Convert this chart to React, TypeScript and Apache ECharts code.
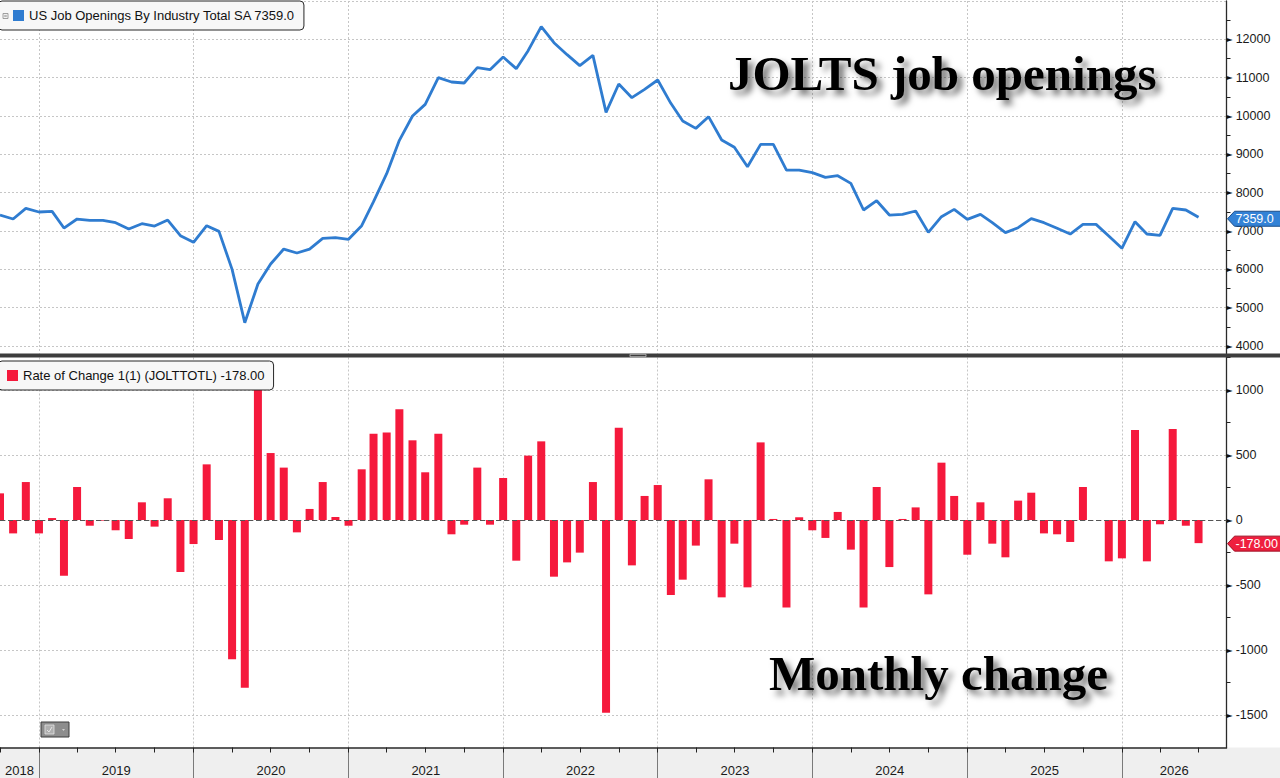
import React, { useEffect, useRef } from "react";
import * as echarts from "echarts";

// ---------- data ----------
const monthLabels = [
  "2018-09", "2018-10", "2018-11", "2018-12",
  "2019-01", "2019-02", "2019-03", "2019-04", "2019-05", "2019-06", "2019-07", "2019-08", "2019-09", "2019-10", "2019-11", "2019-12",
  "2020-01", "2020-02", "2020-03", "2020-04", "2020-05", "2020-06", "2020-07", "2020-08", "2020-09", "2020-10", "2020-11", "2020-12",
  "2021-01", "2021-02", "2021-03", "2021-04", "2021-05", "2021-06", "2021-07", "2021-08", "2021-09", "2021-10", "2021-11", "2021-12",
  "2022-01", "2022-02", "2022-03", "2022-04", "2022-05", "2022-06", "2022-07", "2022-08", "2022-09", "2022-10", "2022-11", "2022-12",
  "2023-01", "2023-02", "2023-03", "2023-04", "2023-05", "2023-06", "2023-07", "2023-08", "2023-09", "2023-10", "2023-11", "2023-12",
  "2024-01", "2024-02", "2024-03", "2024-04", "2024-05", "2024-06", "2024-07", "2024-08", "2024-09", "2024-10", "2024-11", "2024-12",
  "2025-01", "2025-02", "2025-03", "2025-04", "2025-05", "2025-06", "2025-07", "2025-08", "2025-09", "2025-10", "2025-11", "2025-12",
  "2026-01", "2026-02", "2026-03", "2026-04", "2026-05", "2026-06",
];

const jobOpenings = [
  7417, 7313, 7591, 7496,
  7513, 7078, 7313, 7278, 7278, 7217, 7052, 7191, 7130, 7287, 6878, 6704,
  7139, 6991, 6000, 4609, 5617, 6139, 6530, 6426, 6530, 6809, 6826, 6783,
  7139, 7765, 8496, 9365, 10000, 10304, 11000, 10887, 10861, 11261, 11209, 11539,
  11235, 11704, 12330, 11913, 11600, 11313, 11583, 10096, 10835, 10478, 10696, 10939,
  10331, 9870, 9678, 9983, 9374, 9183, 8678, 9261, 9261, 8591, 8591, 8522,
  8400, 8443, 8243, 7548, 7791, 7417, 7435, 7522, 6965, 7374, 7565, 7304,
  7435, 7217, 6957, 7087, 7322, 7217, 7070, 6922, 7174, 7174, 6870, 6548,
  7243, 6922, 6887, 7591, 7548, 7359,
];

const monthlyChange = [
  205, -103, 292, -103,
  15, -428, 254, -44, -5, -79, -146, 136, -51, 167, -400, -185,
  428, -154, -1072, -1290, 1015, 515, 403, -95, 85, 292, 23, -44,
  390, 664, 674, 851, 613, 367, 664, -110, -36, 403, -36, 323,
  -313, 495, 605, -436, -326, -251, 292, -1482, 710, -349, 185, 269,
  -577, -459, -197, 313, -595, -182, -518, 597, 8, -674, 21, -79,
  -138, 62, -228, -674, 254, -362, 8, 97, -572, 441, 185, -267,
  136, -182, -287, 149, 210, -103, -110, -169, 254, 0, -318, -295,
  692, -318, -33, 700, -44, -178,
];

const yearStartTicks = [2019, 2020, 2021, 2022, 2023, 2024, 2025, 2026];
const yearLabelYears = [2018, 2019, 2020, 2021, 2022, 2023, 2024, 2025, 2026];
const quarterYears = [2018, 2019, 2020, 2021, 2022, 2023, 2024, 2025, 2026];
const topMajorTicks = [4000, 5000, 6000, 7000, 8000, 9000, 10000, 11000, 12000, 13000];
const topLabelTicks = [4000, 5000, 6000, 7000, 8000, 9000, 10000, 11000, 12000];
const topMinorTicks = [4500, 5500, 6500, 7500, 8500, 9500, 10500, 11500, 12500];
const botMajorTicks = [-1500, -1000, -500, 0, 500, 1000];
const botMinorTicks = [-1250, -750, -250, 250, 750, 1250];

const LINE_NAME = "US Job Openings By Industry Total SA";
const BAR_NAME = "Rate of Change 1(1) (JOLTTOTL)";

// ---------- styling ----------
const FONT = '"Liberation Sans", Arial, sans-serif';
const SERIF = '"Liberation Serif", "Times New Roman", serif';
const LINE_COLOR = "#2f7cd0";
const BAR_COLOR = "#f5193c";
const gridLine = { color: "#c6c6c6", type: [2, 2] as number[], width: 1 };

const toEndOfMonth = (s: string) => {
  const [y, m] = s.split("-").map(Number);
  return Date.UTC(y, m, 1);
};

const X_MIN = Date.UTC(2018, 9, 1);
const X_MAX = Date.UTC(2026, 8, 5);

const yearStarts = yearStartTicks.map((y) => Date.UTC(y, 0, 1));
const yearMids = yearLabelYears.map((y) => {
  const a = Math.max(Date.UTC(y, 0, 1), X_MIN);
  const b = Math.min(Date.UTC(y + 1, 0, 1), X_MAX);
  return (a + b) / 2;
});
const quarterStarts: number[] = [];
quarterYears.forEach((y) => [0, 3, 6, 9].forEach((m) => {
  const t = Date.UTC(y, m, 1);
  if (t >= X_MIN && t <= X_MAX) quarterStarts.push(t);
}));

const lineData = monthLabels.map((m, i) => [toEndOfMonth(m), jobOpenings[i]]);
const barData = monthLabels.map((m, i) => [toEndOfMonth(m), monthlyChange[i]]);
const lastOpen = jobOpenings[jobOpenings.length - 1];
const lastChange = monthlyChange[monthlyChange.length - 1];

const yLabel = {
  margin: 0,
  formatter: (v: number) => `{t|►}{v|${v}}`,
  rich: {
    t: { fontFamily: '"DejaVu Sans"', fontSize: 8, color: "#111", padding: [0, 3, 0, 0], verticalAlign: "middle" },
    v: { fontFamily: FONT, fontSize: 12.5, color: "#1a1a1a", verticalAlign: "middle" },
  },
};

const legendBase = {
  icon: "rect",
  itemWidth: 11,
  itemHeight: 11,
  selectedMode: false,
  backgroundColor: "#f7f7f7",
  borderColor: "#262626",
  borderWidth: 1,
  borderRadius: 4,
  textStyle: { fontFamily: FONT, fontSize: 13, color: "#111" },
};

const xBase = { type: "value", min: X_MIN, max: X_MAX, scale: true };

const option: any = {
  animation: false,
  backgroundColor: "#ffffff",
  grid: [
    { left: 0, top: 1, width: 1226.5, height: 352.7, outerBoundsMode: "none" },
    { left: 0, top: 357.5, width: 1226.5, height: 390, outerBoundsMode: "none" },
  ],
  legend: [
    {
      ...legendBase,
      data: [LINE_NAME],
      left: -2,
      top: 1,
      padding: [8, 9, 8, 15],
      formatter: (n: string) => `${n} ${lastOpen.toFixed(1)}`,
    },
    {
      ...legendBase,
      data: [BAR_NAME],
      left: -2,
      top: 361,
      padding: [8, 9, 8, 9],
      formatter: (n: string) => `${n} ${lastChange.toFixed(2)}`,
    },
  ],
  xAxis: [
    {
      ...xBase, gridIndex: 0,
      axisLine: { show: false, onZero: false },
      axisTick: { show: false, customValues: yearStarts },
      axisLabel: { show: false },
      splitLine: { show: true, lineStyle: gridLine },
    },
    {
      ...xBase, gridIndex: 1, position: "bottom",
      axisLine: { show: true, onZero: false, lineStyle: { color: "#2a2a2a", width: 1.5 } },
      axisTick: { show: true, customValues: yearStarts, length: 31, lineStyle: { color: "#7a7a7a", width: 1 } },
      axisLabel: {
        show: true, customValues: yearMids, margin: 16,
        formatter: (v: number) => String(new Date(v).getUTCFullYear()),
        fontFamily: FONT, fontSize: 13, color: "#1a1a1a",
      },
      splitLine: { show: true, lineStyle: gridLine },
    },
    {
      ...xBase, gridIndex: 1, position: "bottom",
      axisLine: { show: false, onZero: false },
      axisTick: { show: true, customValues: quarterStarts, length: 5, lineStyle: { color: "#222", width: 1 } },
      axisLabel: { show: false },
      splitLine: { show: false },
    },
  ],
  yAxis: [
    {
      type: "value", gridIndex: 0, position: "right", min: 3800, max: 13000,
      axisLine: { show: true, onZero: false, lineStyle: { color: "#2a2a2a", width: 1.3 } },
      axisTick: { show: false, customValues: topMajorTicks },
      axisLabel: { ...yLabel, customValues: topLabelTicks },
      splitLine: { show: true, lineStyle: gridLine },
    },
    {
      type: "value", gridIndex: 0, position: "right", min: 3800, max: 13000,
      axisLine: { show: false, onZero: false },
      axisTick: { show: true, customValues: topMinorTicks, length: 4, lineStyle: { color: "#222" } },
      axisLabel: { show: false },
      splitLine: { show: false },
    },
    {
      type: "value", gridIndex: 1, position: "right", min: -1750, max: 1250,
      axisLine: { show: true, onZero: false, lineStyle: { color: "#2a2a2a", width: 1.3 } },
      axisTick: { show: false, customValues: botMajorTicks },
      axisLabel: { ...yLabel, customValues: botMajorTicks },
      splitLine: { show: true, lineStyle: gridLine },
    },
    {
      type: "value", gridIndex: 1, position: "right", min: -1750, max: 1250,
      axisLine: { show: false, onZero: false },
      axisTick: { show: true, customValues: botMinorTicks, length: 4, lineStyle: { color: "#222" } },
      axisLabel: { show: false },
      splitLine: { show: false },
    },
  ],
  series: [
    {
      name: LINE_NAME,
      type: "line",
      xAxisIndex: 0,
      yAxisIndex: 0,
      data: lineData,
      showSymbol: false,
      symbol: "none",
      lineStyle: { color: LINE_COLOR, width: 2.8 },
      itemStyle: { color: LINE_COLOR },
      silent: true,
    },
    {
      name: BAR_NAME,
      type: "bar",
      xAxisIndex: 1,
      yAxisIndex: 2,
      data: barData,
      barWidth: 8,
      itemStyle: { color: BAR_COLOR },
      silent: true,
      markLine: {
        silent: true,
        symbol: ["none", "none"],
        label: { show: false },
        lineStyle: { color: "#555", type: [5, 3], width: 1 },
        data: [{ yAxis: 0 }],
      },
    },
  ],
};

const badge = (axisX: number, y: number, text: string, fill: string, stroke: string) => [
  {
    type: "polygon",
    z: 30,
    silent: true,
    shape: { points: [[axisX + 1, y], [axisX + 8, y - 7.5], [1284, y - 7.5], [1284, y + 7.5], [axisX + 8, y + 7.5]] },
    style: { fill, stroke, lineWidth: 1 },
  },
  {
    type: "text",
    z: 31,
    silent: true,
    x: axisX + 9,
    y,
    style: { text, fill: "#ffffff", font: `12.5px ${FONT}`, verticalAlign: "middle", align: "left" },
  },
];

const buildGraphics = (axisX: number, yOpen: number, yChg: number) => [
  { type: "rect", z: -10, silent: true, shape: { x: 0, y: 747.5, width: 1280, height: 31 }, style: { fill: "#efefef" } },
  { type: "rect", z: 25, silent: true, shape: { x: 0, y: 353.5, width: 1280, height: 4 }, style: { fill: "#3d3d3d" } },
  { type: "rect", z: 26, silent: true, shape: { x: 630, y: 354.3, width: 16, height: 2.4 }, style: { fill: "none", stroke: "#c4c4c4", lineWidth: 0.8 } },
  { type: "rect", z: 30, silent: true, shape: { x: 3, y: 13.5, width: 5, height: 5 }, style: { fill: "#f0f0f0", stroke: "#8a8a8a", lineWidth: 0.8 } },
  { type: "line", z: 31, silent: true, shape: { x1: 4.2, y1: 16, x2: 6.8, y2: 16 }, style: { stroke: "#666", lineWidth: 0.8 } },
  { type: "rect", z: 30, silent: true, shape: { x: 41, y: 722, width: 28, height: 15 }, style: { fill: "#8d8d8d", stroke: "#3c3c3c", lineWidth: 1 } },
  { type: "rect", z: 31, silent: true, shape: { x: 45, y: 725, width: 9, height: 9 }, style: { fill: "#b0b0b0", stroke: "#e4e4e4", lineWidth: 0.8 } },
  { type: "polyline", z: 32, silent: true, shape: { points: [[47, 730], [49, 732], [52, 727]] }, style: { stroke: "#f2f2f2", lineWidth: 0.8, fill: "none" } },
  { type: "polygon", z: 31, silent: true, shape: { points: [[62, 729], [65, 729], [63.5, 731]] }, style: { fill: "#d0d0d0" } },
  {
    type: "text", z: 20, silent: true, x: 728, y: 73.5,
    style: {
      text: "JOLTS job openings", font: `bold 49px ${SERIF}`, fill: "#000", verticalAlign: "middle", align: "left",
      textShadowColor: "rgba(0,0,0,0.55)", textShadowBlur: 6, textShadowOffsetX: 5, textShadowOffsetY: 5,
    },
  },
  {
    type: "text", z: 20, silent: true, x: 769, y: 673.5,
    style: {
      text: "Monthly change", font: `bold 49px ${SERIF}`, fill: "#000", verticalAlign: "middle", align: "left",
      textShadowColor: "rgba(0,0,0,0.55)", textShadowBlur: 6, textShadowOffsetX: 5, textShadowOffsetY: 5,
    },
  },
  ...badge(axisX, yOpen + 1.5, lastOpen.toFixed(1), "#3382d6", "#1d4f8a"),
  ...badge(axisX, yChg + 0.5, lastChange.toFixed(2), "#ef1f3e", "#9c1025"),
];

export default function App() {
  const ref = useRef<HTMLDivElement>(null);
  useEffect(() => {
    if (!ref.current) return;
    const chart = echarts.init(ref.current, null, { renderer: "svg" });
    chart.setOption(option);
    const axisX = chart.convertToPixel({ xAxisIndex: 0 }, X_MAX) as unknown as number;
    const yOpen = chart.convertToPixel({ yAxisIndex: 0 }, lastOpen) as unknown as number;
    const yChg = chart.convertToPixel({ yAxisIndex: 2 }, lastChange) as unknown as number;
    chart.setOption({ graphic: buildGraphics(axisX, yOpen, yChg) });
    return () => chart.dispose();
  }, []);
  return (
    <div
      ref={ref}
      style={{ position: "fixed", left: 0, top: 0, width: 1280, height: 778, background: "#fff" }}
    />
  );
}
